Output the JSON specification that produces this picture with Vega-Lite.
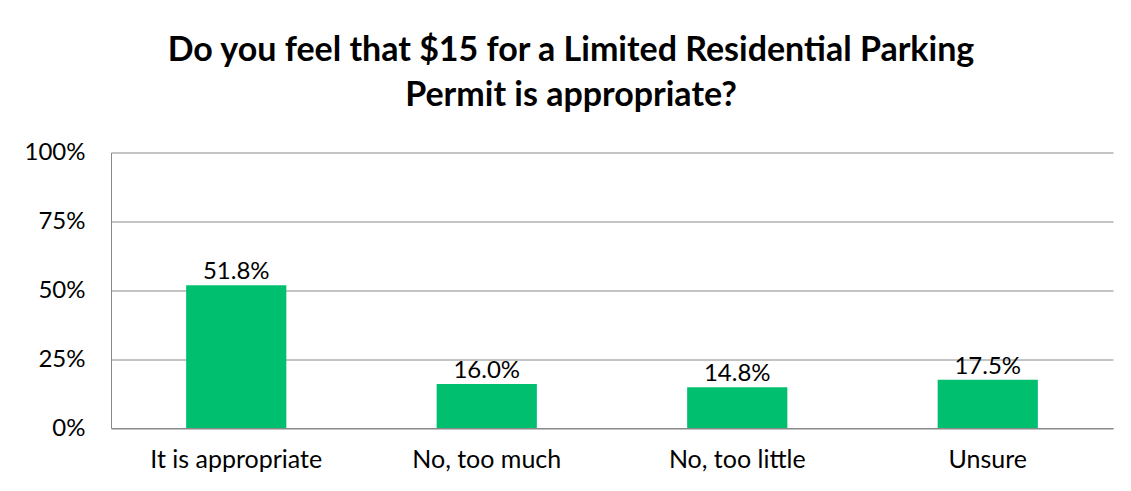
{
  "$schema": "https://vega.github.io/schema/vega-lite/v6.json",
  "autosize": {"type": "none"},
  "width": 1002,
  "height": 275.5,
  "padding": {"left": 111, "top": 152.5, "right": 18, "bottom": 63},
  "background": "white",
  "title": {
    "text": ["Do you feel that $15 for a Limited Residential Parking", "Permit is appropriate?"],
    "font": "Lato",
    "fontSize": 34,
    "fontWeight": "bold",
    "color": "black",
    "anchor": "middle",
    "dx": -41,
    "offset": 28,
    "lineHeight": 45
  },
  "data": {
    "values": [
      {"answer": "It is appropriate", "share": 0.518},
      {"answer": "No, too much", "share": 0.160},
      {"answer": "No, too little", "share": 0.148},
      {"answer": "Unsure", "share": 0.175}
    ]
  },
  "encoding": {
    "x": {
      "field": "answer",
      "type": "nominal",
      "sort": null,
      "scale": {"paddingInner": 0.6, "paddingOuter": 0.3},
      "axis": {
        "title": null,
        "labelAngle": 0,
        "ticks": false,
        "domain": true,
        "domainColor": "#888888",
        "labelFont": "Lato",
        "labelFontSize": 25,
        "labelColor": "black",
        "labelPadding": 19
      }
    },
    "y": {
      "field": "share",
      "type": "quantitative",
      "scale": {"domain": [0, 1]},
      "axis": {
        "title": null,
        "values": [0, 0.25, 0.5, 0.75, 1],
        "format": ".0%",
        "ticks": false,
        "domain": true,
        "domainColor": "#888888",
        "grid": true,
        "gridColor": "#888888",
        "labelFont": "Lato",
        "labelFontSize": 24,
        "labelColor": "black",
        "labelPadding": 26
      }
    }
  },
  "layer": [
    {"mark": {"type": "bar", "color": "#00BF6F"}},
    {
      "mark": {"type": "text", "font": "Lato", "fontSize": 24, "color": "black", "baseline": "alphabetic", "dy": -6},
      "encoding": {"text": {"field": "share", "type": "quantitative", "format": ".1%"}}
    }
  ],
  "config": {"view": {"stroke": null}}
}
